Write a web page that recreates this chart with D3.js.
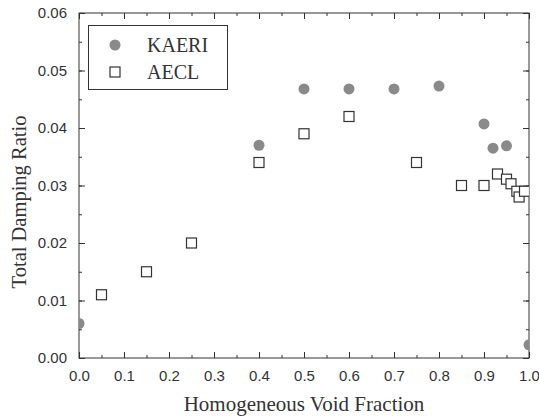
<!DOCTYPE html>
<html><head><meta charset="utf-8">
<script src="https://cdn.jsdelivr.net/npm/d3@7"></script>
<style>body{margin:0;background:#fff}svg{display:block}</style>
</head><body>
<script>
const kaeriX = [0.0, 0.4, 0.5, 0.6, 0.7, 0.8, 0.9, 0.92, 0.95, 1.0];
const kaeriY = [0.006, 0.037, 0.0468, 0.0468, 0.0468, 0.0473, 0.0407, 0.0365, 0.0369, 0.0023];
const aeclX = [0.05, 0.15, 0.25, 0.4, 0.5, 0.6, 0.75, 0.85, 0.9, 0.93, 0.95, 0.96, 0.973, 0.978, 0.99];
const aeclY = [0.011, 0.015, 0.020, 0.034, 0.039, 0.042, 0.034, 0.030, 0.030, 0.032, 0.0311, 0.0303, 0.029, 0.028, 0.029];
const xTicks = [0.0, 0.1, 0.2, 0.3, 0.4, 0.5, 0.6, 0.7, 0.8, 0.9, 1.0];
const yTicks = [0.00, 0.01, 0.02, 0.03, 0.04, 0.05, 0.06];
const seriesNames = ["KAERI", "AECL"];
const xTitle = "Homogeneous Void Fraction";
const yTitle = "Total Damping Ratio";

const W = 539, H = 419;
const m = {l: 79, r: 10, t: 13, b: 61};
const svg = d3.select("body").append("svg").attr("width", W).attr("height", H);
const x = d3.scaleLinear().domain([0, 1]).range([m.l, W - m.r]);
const y = d3.scaleLinear().domain([0, 0.06]).range([H - m.b, m.t]);
const ink = "#333";
const serif = "'Liberation Serif', 'Times New Roman', serif";

svg.append("clipPath").attr("id", "c").append("rect")
  .attr("x", x(0)).attr("y", y(0.06)).attr("width", x(1) - x(0)).attr("height", y(0) - y(0.06));

// axes
const xMinor = d3.range(0, 1.0001, 0.05);
const yMinor = d3.range(0, 0.06001, 0.005);
function styleAxis(g) {
  g.selectAll(".domain").remove();
  g.selectAll("line").attr("stroke", ink);
}
const fontTick = "'Liberation Sans', Arial, sans-serif";
svg.append("g").attr("transform", `translate(0,${y(0)})`)
  .call(d3.axisBottom(x).tickValues(xMinor).tickSize(-3).tickFormat(""))
  .call(styleAxis);
svg.append("g").attr("transform", `translate(0,${y(0)})`)
  .call(d3.axisBottom(x).tickValues(xTicks).tickSize(-6).tickPadding(12).tickFormat(d3.format(".1f")))
  .call(styleAxis)
  .call(g => g.selectAll("text").attr("font-family", fontTick).attr("font-size", 15).attr("fill", ink));
svg.append("g").attr("transform", `translate(0,${y(0.06)})`)
  .call(d3.axisTop(x).tickValues(xMinor).tickSize(-3).tickFormat(""))
  .call(styleAxis);
svg.append("g").attr("transform", `translate(0,${y(0.06)})`)
  .call(d3.axisTop(x).tickValues(xTicks).tickSize(-6).tickFormat(""))
  .call(styleAxis);
svg.append("g").attr("transform", `translate(${x(0)},0)`)
  .call(d3.axisLeft(y).tickValues(yMinor).tickSize(-3).tickFormat(""))
  .call(styleAxis);
svg.append("g").attr("transform", `translate(${x(0)},0)`)
  .call(d3.axisLeft(y).tickValues(yTicks).tickSize(-6).tickPadding(12).tickFormat(d3.format(".2f")))
  .call(styleAxis)
  .call(g => g.selectAll("text").attr("font-family", fontTick).attr("font-size", 15).attr("fill", ink));
svg.append("g").attr("transform", `translate(${x(1)},0)`)
  .call(d3.axisRight(y).tickValues(yMinor).tickSize(-3).tickFormat(""))
  .call(styleAxis);
svg.append("g").attr("transform", `translate(${x(1)},0)`)
  .call(d3.axisRight(y).tickValues(yTicks).tickSize(-6).tickFormat(""))
  .call(styleAxis);

svg.append("rect").attr("x", x(0)).attr("y", y(0.06)).attr("width", x(1) - x(0)).attr("height", y(0) - y(0.06))
  .attr("fill", "none").attr("stroke", ink).attr("stroke-width", 1);

// data
const pts = svg.append("g").attr("clip-path", "url(#c)");
pts.selectAll("circle.k").data(kaeriX.map((d, i) => [d, kaeriY[i]])).join("circle")
  .attr("cx", d => x(d[0])).attr("cy", d => y(d[1])).attr("r", 5.5).attr("fill", "#8a8a8a");
const s = 10;
pts.selectAll("rect.a").data(aeclX.map((d, i) => [d, aeclY[i]])).join("rect")
  .attr("x", d => x(d[0]) - s / 2).attr("y", d => y(d[1]) - s / 2).attr("width", s).attr("height", s)
  .attr("fill", "#fff").attr("stroke", ink).attr("stroke-width", 1.2);

// legend
const lg = svg.append("g");
lg.append("rect").attr("x", 88.5).attr("y", 25.5).attr("width", 139).attr("height", 64)
  .attr("fill", "#fff").attr("stroke", ink).attr("stroke-width", 1);
lg.append("circle").attr("cx", 115).attr("cy", 45).attr("r", 5.5).attr("fill", "#8a8a8a");
lg.append("rect").attr("x", 115 - s / 2).attr("y", 72 - s / 2).attr("width", s).attr("height", s)
  .attr("fill", "#fff").attr("stroke", ink).attr("stroke-width", 1.2);
lg.selectAll("text").data(seriesNames).join("text")
  .attr("x", 147).attr("y", (d, i) => 52 + i * 27)
  .attr("font-family", serif).attr("font-size", 20).attr("fill", ink)
  .text(d => d);

// titles
svg.append("text").attr("x", 304).attr("y", 411).attr("text-anchor", "middle")
  .attr("font-family", serif).attr("font-size", 21).attr("fill", ink)
  .text(xTitle);
svg.append("text").attr("transform", `translate(26,202) rotate(-90)`).attr("text-anchor", "middle")
  .attr("font-family", serif).attr("font-size", 20.5).attr("fill", ink)
  .text(yTitle);
</script>
</body></html>
